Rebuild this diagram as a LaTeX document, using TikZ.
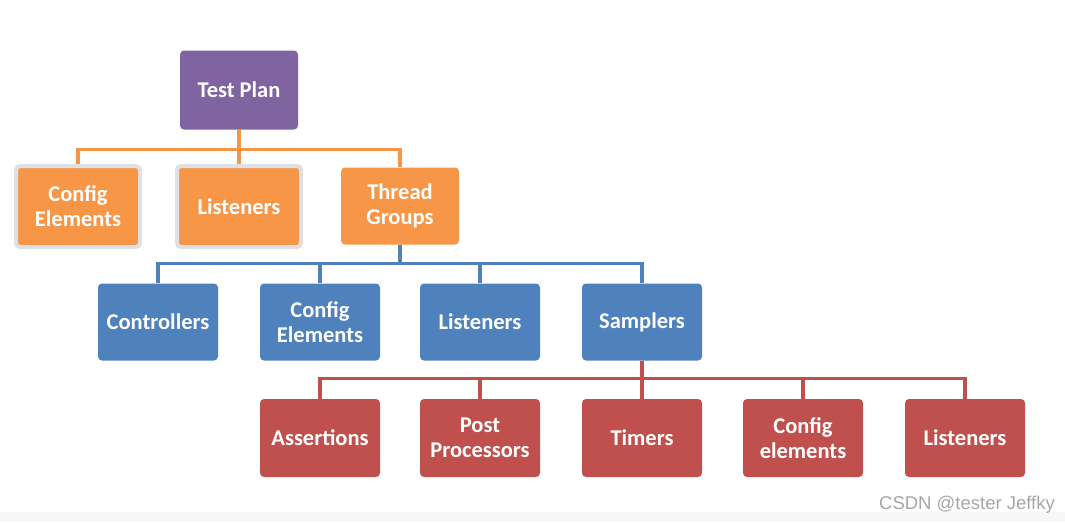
\documentclass[tikz,border=0pt]{standalone}
\usepackage{fontspec}
\setmainfont{Carlito}
\newfontfamily\markfont{Liberation Sans}
\definecolor{plan}{HTML}{8064A2}
\definecolor{ora}{HTML}{F79646}
\definecolor{blu}{HTML}{4F81BD}
\definecolor{rd}{HTML}{C0504D}
\definecolor{halo}{HTML}{DDE1E5}
\tikzstyle{box} = [rounded corners=4pt, minimum width=118pt, minimum height=77pt, text=white, font=\bfseries\fontsize{22.5}{25}\selectfont, align=center, inner sep=0pt]
\tikzstyle{pbox} = [box, fill=plan, minimum height=79pt]
\tikzstyle{obox} = [box, fill=ora]
\tikzstyle{gbox} = [obox, draw=halo, line width=4pt, minimum width=124pt, minimum height=81pt]
\tikzstyle{bbox} = [box, fill=blu, minimum width=120pt]
\tikzstyle{rbox} = [box, fill=rd, minimum width=120pt, minimum height=78pt]
\tikzstyle{oline} = [draw=ora, line width=3.5pt]
\tikzstyle{bline} = [draw=blu, line width=3.5pt]
\tikzstyle{rline} = [draw=rd, line width=3.5pt]

\begin{document}
\begin{tikzpicture}[x=1pt, y=-1pt]
  \useasboundingbox (0,0) rectangle (1065,522);
  \fill[black!3] (0,512) rectangle (1065,522);
  \node (a) at (239,90) [pbox] {Test Plan};
  \node (b) at (78,206.5) [gbox] {Config\\Elements};
  \node (c) at (239,206.5) [gbox] {Listeners};
  \node (d) at (400,206) [obox] {Thread\\Groups};
  \node (e) at (158,322) [bbox] {Controllers};
  \node (f) at (320,322) [bbox] {Config\\Elements};
  \node (g) at (480,322) [bbox] {Listeners};
  \node (h) at (642,322) [bbox] {Samplers};
  \node (i) at (320,438) [rbox] {Assertions};
  \node (j) at (480,438) [rbox] {Post\\Processors};
  \node (k) at (642,438) [rbox] {Timers};
  \node (l) at (803,438) [rbox] {Config\\elements};
  \node (m) at (965,438) [rbox] {Listeners};
  \node (w) at (967,505) [text=black!35, font=\markfont\fontsize{18.5}{20}\selectfont] {CSDN @tester Jeffky};
  \draw [oline] (a.south) -- ++(0,20) -| (b.north);
  \draw [oline] (a.south) -- (c.north);
  \draw [oline] (a.south) -- ++(0,20) -| (d.north);
  \draw [bline] (d.south) -- ++(0,19) -| (e.north);
  \draw [bline] (d.south) -- ++(0,19) -| (f.north);
  \draw [bline] (d.south) -- ++(0,19) -| (g.north);
  \draw [bline] (d.south) -- ++(0,19) -| (h.north);
  \draw [rline] (h.south) -- ++(0,18) -| (i.north);
  \draw [rline] (h.south) -- ++(0,18) -| (j.north);
  \draw [rline] (h.south) -- (k.north);
  \draw [rline] (h.south) -- ++(0,18) -| (l.north);
  \draw [rline] (h.south) -- ++(0,18) -| (m.north);
\end{tikzpicture}
\end{document}
